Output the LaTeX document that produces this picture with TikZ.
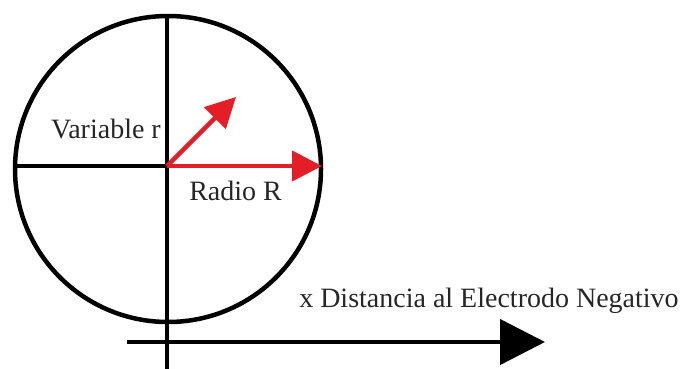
\documentclass[tikz,border=0pt]{standalone}
\usepackage{fontspec}
\setmainfont{Liberation Serif}
\usetikzlibrary{arrows.meta}
\definecolor{arrowred}{RGB}{228,30,38}

\begin{document}
\begin{tikzpicture}[x=1pt,y=-1pt,line width=4.5pt,
  lbl/.style={inner sep=0pt,text=black!85,font=\fontsize{28}{33}\selectfont},
  bigtip/.style={-{Triangle[length=45pt,width=45pt]}},
  redtip/.style={arrowred,-{Triangle[length=30pt,width=30pt]}}]
\useasboundingbox (0,0) rectangle (680,369);
\coordinate (C)   at (168,169);
\coordinate (O)   at (167,166);
\coordinate (Top) at (167,15);
\coordinate (Bot) at (167,369);
\coordinate (L)   at (14,166);
\coordinate (R)   at (322,166);
\coordinate (r)   at (236,97);
\coordinate (XA)  at (127,342);
\coordinate (XB)  at (545,342);

\draw (C) circle[radius=153pt];
\draw (Top) -- (Bot);
\draw (L) -- (O);
\draw[bigtip] (XA) -- (XB);
\draw[redtip] (O) -- (r);
\draw[redtip] (O) -- (R);

\node[lbl,anchor=base east] (varr)  at (163,138) {Variable r};
\node[lbl,anchor=base west] (radio) at (187,200) {Radio R};
\node[lbl,anchor=base west] (dist)  at (297,307) {x Distancia al Electrodo Negativo};
\end{tikzpicture}
\end{document}
